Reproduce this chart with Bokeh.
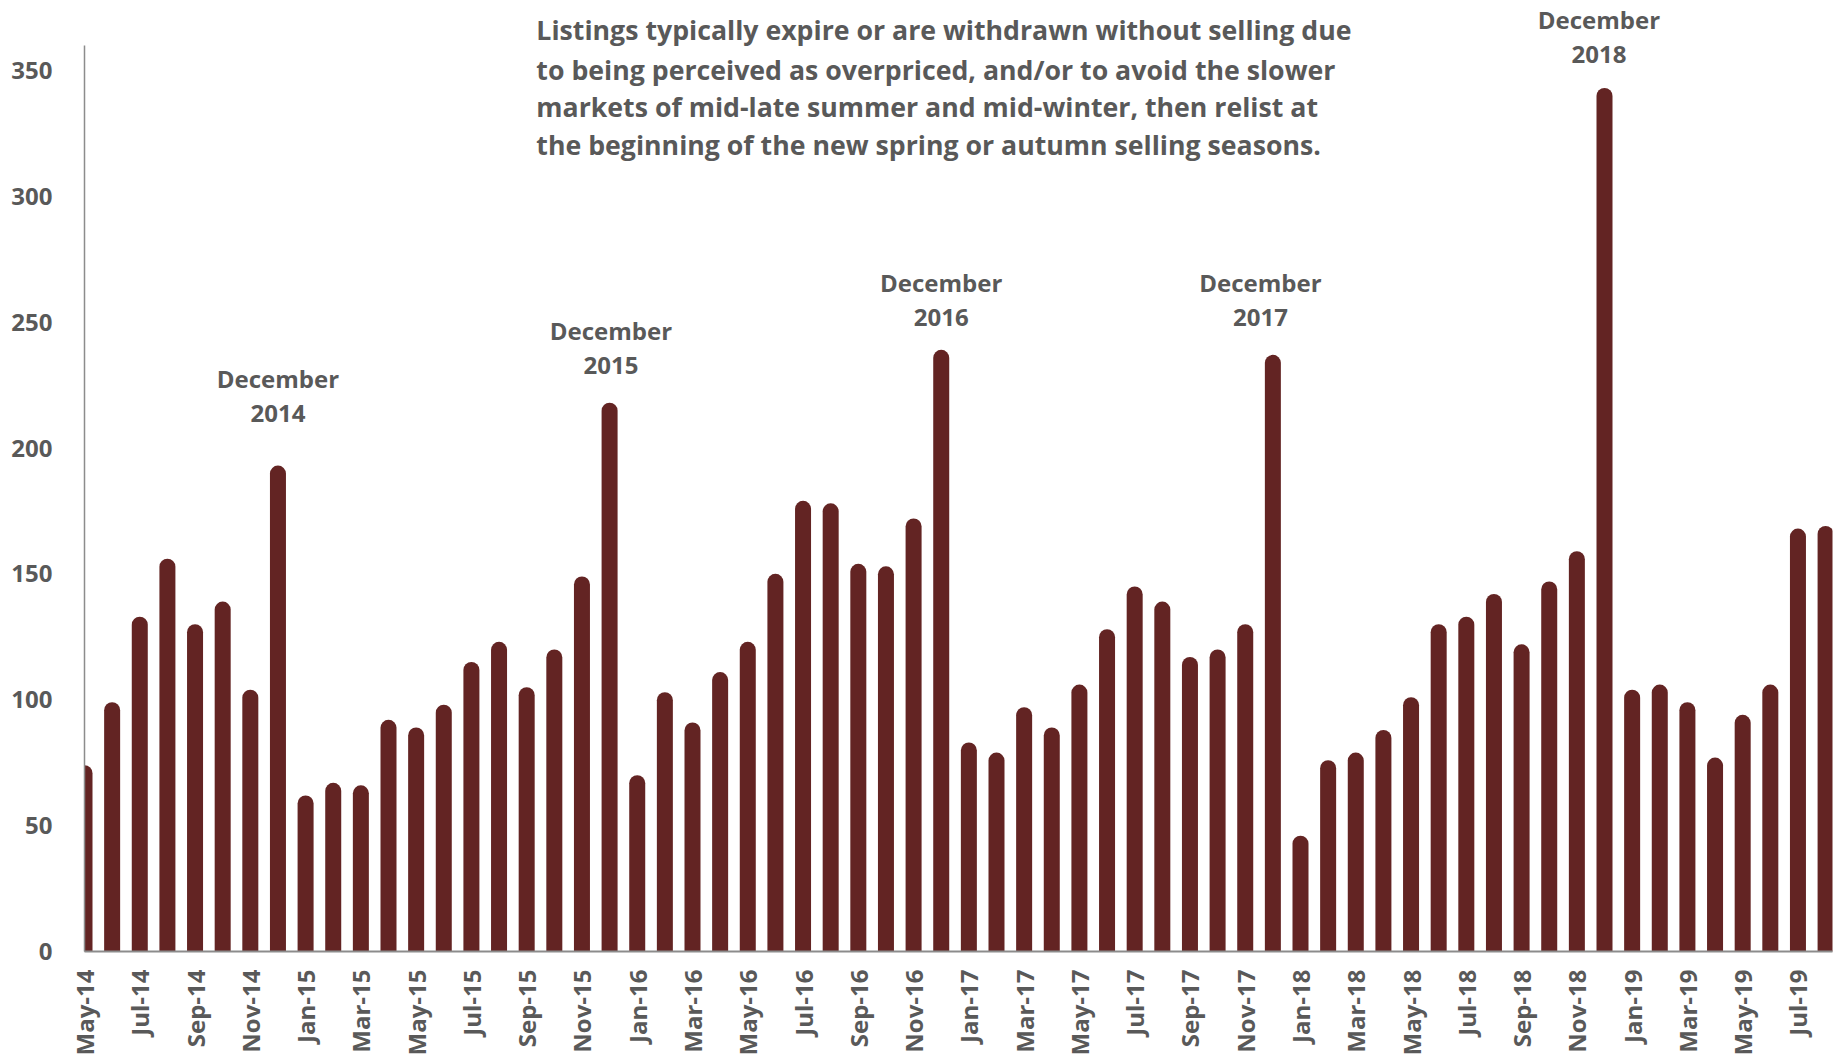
import math
import pandas as pd
from bokeh.plotting import figure
from bokeh.models import ColumnDataSource, FixedTicker, Label, Range1d
from bokeh.embed import file_html
from bokeh.resources import INLINE

# ---- data ----
months = list(pd.date_range("2014-05-01", periods=64, freq="MS").strftime("%b-%y"))
values = [74, 99, 133, 156, 130, 139, 104, 193,
          62, 67, 66, 92, 89, 98, 115, 123, 105, 120, 149, 218,
          70, 103, 91, 111, 123, 150, 179, 178, 154, 153, 172, 239,
          83, 79, 97, 89, 106, 128, 145, 139, 117, 120, 130, 237,
          46, 76, 79, 88, 101, 130, 133, 142, 122, 147, 159, 343,
          104, 106, 99, 77, 94, 106, 168, 169]
y_ticks = [0, 50, 100, 150, 200, 250, 300, 350]
dec_months = ["Dec-14", "Dec-15", "Dec-16", "Dec-17", "Dec-18"]
dec_years = ["2014", "2015", "2016", "2017", "2018"]
note_lines = [
    "Listings typically expire or are withdrawn without selling due",
    "to being perceived as overpriced, and/or to avoid the slower",
    "markets of mid-late summer and mid-winter, then relist at",
    "the beginning of the new spring or autumn selling seasons.",
]

# ---- layout constants ----
W, H = 1839, 1058
LEFT, RIGHT, BOTTOM = 84, 7, 102
AXIS_TOP = 360          # where the y axis line stops
Y_MAX = 375             # frame extends a bit higher for annotations
PX_PER_UNIT = 911 / 360
TOP = H - BOTTOM - round(Y_MAX * PX_PER_UNIT)
X_END = 63.25
BAR_PX = 16
TEXT = "#595959"
BAR = "#632423"
AXIS = "#8C8C8C"
FONT = "Open Sans"

cap = (BAR_PX / 2) / PX_PER_UNIT

x = list(range(len(values)))
src = ColumnDataSource(dict(x=x, y0=[0] * len(values),
                            y1=[v - cap for v in values], month=months))

p = figure(width=W, height=H, output_backend="svg", toolbar_location=None,
           x_range=Range1d(0, X_END), y_range=Range1d(0, Y_MAX),
           min_border_left=LEFT, min_border_right=RIGHT,
           min_border_top=TOP, min_border_bottom=BOTTOM)
p.outline_line_color = None
p.xgrid.grid_line_color = None
p.ygrid.grid_line_color = None
p.background_fill_color = "white"
p.border_fill_color = "white"

p.segment(x0="x", y0="y0", x1="x", y1="y1", source=src,
          line_color=BAR, line_width=BAR_PX, line_cap="round")

# x axis
p.xaxis.ticker = FixedTicker(ticks=x[::2])
p.xaxis.major_label_overrides = {i: months[i] for i in x[::2]}
p.xaxis.major_label_orientation = math.pi / 2
p.xaxis.major_tick_line_color = None
p.xaxis.minor_tick_line_color = None
p.xaxis.axis_line_color = AXIS
p.xaxis.axis_line_width = 2
p.xaxis.major_label_standoff = 12
p.xaxis.major_label_text_font = FONT
p.xaxis.major_label_text_font_style = "bold"
p.xaxis.major_label_text_font_size = "24px"
p.xaxis.major_label_text_color = TEXT

# y axis
p.yaxis.ticker = FixedTicker(ticks=y_ticks)
p.yaxis.bounds = (0, AXIS_TOP)
p.yaxis.major_tick_line_color = None
p.yaxis.minor_tick_line_color = None
p.yaxis.axis_line_color = AXIS
p.yaxis.axis_line_width = 1.5
p.yaxis.major_label_standoff = 26
p.yaxis.major_label_text_font = FONT
p.yaxis.major_label_text_font_style = "bold"
p.yaxis.major_label_text_font_size = "24px"
p.yaxis.major_label_text_color = TEXT

# December annotations
dec_top = [227.8, 246.8, 265.7, 265.7, 370.4]
dec_dx = [0, 0.05, 0, -0.45, -0.2]
line_gap = 13.9
for m, yr, yt, dx in zip(dec_months, dec_years, dec_top, dec_dx):
    xi = months.index(m) + dx
    for txt, yy in (("December", yt), (yr, yt - line_gap)):
        p.add_layout(Label(x=xi, y=yy, text=txt, text_align="center",
                           text_baseline="middle", text_font=FONT,
                           text_font_style="bold", text_font_size="24px",
                           text_color=TEXT))

# note paragraph
note_x = 16.35
note_y = [366.3, 350.5, 335.7, 320.4]
for line, yy in zip(note_lines, note_y):
    p.add_layout(Label(x=note_x, y=yy, text=line, text_align="left",
                       text_baseline="middle", text_font=FONT,
                       text_font_style="bold", text_font_size="26.7px",
                       text_color=TEXT))

open("out.html", "w").write(file_html(p, INLINE))
